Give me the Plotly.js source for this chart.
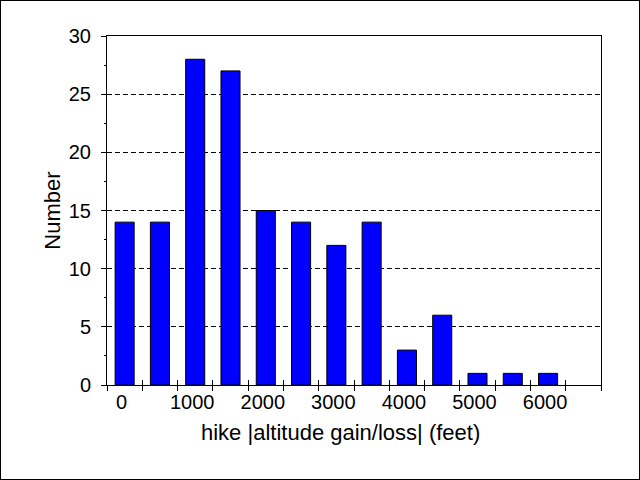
<!DOCTYPE html>
<html><head><meta charset="utf-8">
<script src="https://cdn.plot.ly/plotly-3.0.1.min.js"></script>
<style>html,body{margin:0;padding:0;background:#fff}#c{width:638px;height:478px;border:1px solid #000}</style>
</head><body><div id="c"></div>
<script>
var binCenters=[0,500,1000,1500,2000,2500,3000,3500,4000,4500,5000,5500,6000];
var counts=[14,14,28,27,15,14,12,14,3,6,1,1,1];
var xLabelVals=[0,1000,2000,3000,4000,5000,6000];
var binEdges=[-250,250,750,1250,1750,2250,2750,3250,3750,4250,4750,5250,5750,6250,6750];
var xTitle='hike |altitude gain/loss| (feet)';
var yTitle='Number';
var font='"Liberation Sans", Arial, sans-serif';
var xr=[-250,6750];
var trace={type:'bar',x:binCenters,y:counts,width:270,marker:{color:'#0000FF',line:{color:'#000',width:1}},xaxis:'x',yaxis:'y',hoverinfo:'none'};
var layout={
 width:638,height:478,margin:{l:106,r:38,t:35,b:94},
 paper_bgcolor:'#fff',plot_bgcolor:'#fff',showlegend:false,
 font:{family:font,size:20,color:'#000'},
 xaxis:{range:xr,tickmode:'array',tickvals:binEdges,ticktext:binEdges.map(function(){return '';}),ticks:'outside',ticklen:5,tickwidth:1,tickcolor:'#000',showline:true,linecolor:'#000',linewidth:1,mirror:true,showgrid:false,zeroline:false,fixedrange:true},
 xaxis2:{range:xr,overlaying:'x',anchor:'y',side:'bottom',tickmode:'array',tickvals:xLabelVals,ticktext:xLabelVals.map(String),ticks:'',showline:false,showgrid:false,zeroline:false,tickfont:{size:20},ticklabelstandoff:3,ticklabelshift:-3},
 xaxis3:{range:xr,overlaying:'x',anchor:'y',side:'bottom',tickmode:'array',tickvals:binEdges,showticklabels:false,ticks:'inside',ticklen:5,tickwidth:1,tickcolor:'#000',showline:false,showgrid:false,zeroline:false},
 yaxis:{range:[0,30],tickmode:'linear',tick0:0,dtick:5,ticks:'outside',ticklen:5,tickwidth:1,tickcolor:'#000',showline:true,linecolor:'#000',linewidth:1,mirror:true,
   showgrid:true,gridcolor:'#000',griddash:'5px,3px',gridwidth:1,zeroline:false,tickfont:{size:20},ticklabelstandoff:6,
   minor:{dtick:2.5,ticks:'outside',ticklen:2,tickcolor:'#000',showgrid:false},
   title:{text:yTitle,font:{size:22},standoff:2}},
 annotations:[{text:xTitle,xref:'paper',yref:'paper',x:0.4717,y:-0.1375,xanchor:'center',yanchor:'middle',showarrow:false,font:{size:22}}]
};
var dummy2={type:'scatter',x:[],y:[],xaxis:'x2',yaxis:'y',hoverinfo:'none'};
var dummy3={type:'scatter',x:[],y:[],xaxis:'x3',yaxis:'y',hoverinfo:'none'};
Plotly.newPlot('c',[trace,dummy2,dummy3],layout,{staticPlot:true});
</script></body></html>
